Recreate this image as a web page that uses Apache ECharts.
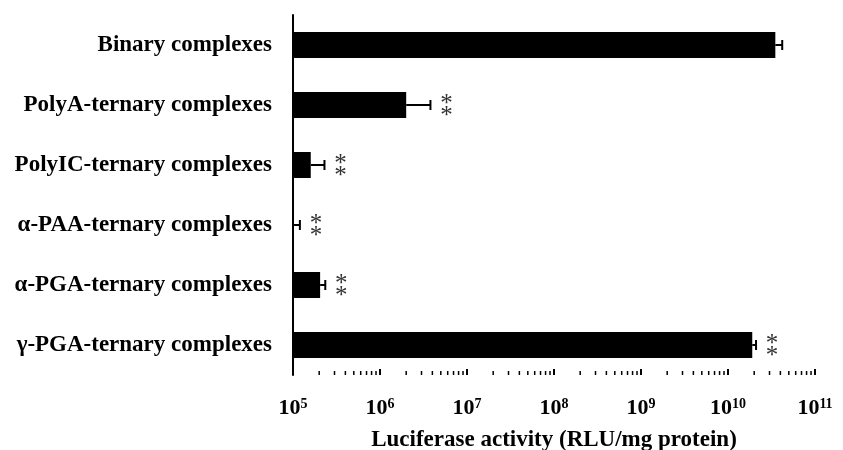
<!DOCTYPE html>
<html>
<head>
<meta charset="utf-8">
<script src="https://cdn.jsdelivr.net/npm/echarts@6/dist/echarts.min.js"></script>
<style>
html,body{margin:0;padding:0;background:#fff;}
#chart{width:843px;height:450px;}
</style>
</head>
<body>
<div id="chart"></div>
<script>
var categories = ['Binary complexes', 'PolyA-ternary complexes', 'PolyIC-ternary complexes', 'α-PAA-ternary complexes', 'α-PGA-ternary complexes', 'γ-PGA-ternary complexes'];
var means = [3.5e10, 2.0e6, 1.6e5, 1.0e5, 2.05e5, 1.9e10];
var errHigh = [4.2e10, 3.8e6, 2.3e5, 1.2e5, 2.35e5, 2.1e10];
var marks = ['', '**', '**', '**', '**', '**'];
var minorTicks = [];
var decades = [1e5, 1e6, 1e7, 1e8, 1e9, 1e10];
var minorMult = [2, 3, 4, 5, 6, 7, 8, 9];
decades.forEach(function (d) { minorMult.forEach(function (m) { minorTicks.push(m * d); }); });

var FONT = "'Liberation Serif','Times New Roman',serif";

var chart = echarts.init(document.getElementById('chart'), null, {renderer: 'canvas'});

var errData = categories.map(function (c, i) { return [errHigh[i], i, means[i], marks[i]]; });

chart.setOption({
  animation: false,
  backgroundColor: '#fff',
  grid: {left: 293, right: 28, top: 15, bottom: 75, containLabel: false, outerBoundsMode: 'none'},
  xAxis: {
    type: 'log',
    logBase: 10,
    min: 1e5,
    max: 1e11,
    axisLine: {lineStyle: {color: '#000', width: 2}},
    axisTick: {show: true, inside: true, length: 6, lineStyle: {color: '#000', width: 2}},
    splitLine: {show: false},
    axisLabel: {
      margin: 22,
      formatter: function (v) {
        var e = Math.round(Math.log10(v));
        return '{b|10}{s|' + e + '}';
      },
      rich: {
        b: {fontFamily: FONT, fontWeight: 'bold', fontSize: 22, color: '#000'},
        s: {fontFamily: FONT, fontWeight: 'bold', fontSize: 14, color: '#000', verticalAlign: 'top', padding: [0, 0, 9, 0]}
      }
    },
    name: 'Luciferase activity (RLU/mg protein)',
    nameLocation: 'middle',
    nameGap: 54,
    nameTextStyle: {fontFamily: FONT, fontWeight: 'bold', fontSize: 23, color: '#000'}
  },
  yAxis: {
    type: 'category',
    data: categories,
    inverse: true,
    axisLine: {lineStyle: {color: '#000', width: 2}},
    axisTick: {inside: true, length: 6, alignWithLabel: false, lineStyle: {color: '#000', width: 2}},
    axisLabel: {margin: 21, fontFamily: FONT, fontWeight: 'bold', fontSize: 23, color: '#000'}
  },
  series: [
    {
      type: 'bar',
      data: means,
      barWidth: 26,
      itemStyle: {color: '#000'}
    },
    {
      type: 'custom',
      data: errData,
      encode: {x: 0, y: 1},
      clip: false,
      z: 5,
      renderItem: function (params, api) {
        var cat = api.value(1);
        var hi = api.coord([api.value(0), cat]);
        var lo = api.coord([Math.max(api.value(2), 1e5), cat]);
        var y = hi[1];
        var children = [
          {type: 'line', shape: {x1: lo[0], y1: y, x2: hi[0], y2: y}, style: {stroke: '#000', lineWidth: 2}},
          {type: 'line', shape: {x1: hi[0], y1: y - 5, x2: hi[0], y2: y + 5}, style: {stroke: '#000', lineWidth: 2}}
        ];
        var m = marks[params.dataIndex];
        if (m) {
          children.push({type: 'text', style: {x: hi[0] + 16, y: y - 1, text: '*', fontFamily: FONT, fontSize: 25, fill: '#333', align: 'center', verticalAlign: 'middle'}});
          children.push({type: 'text', style: {x: hi[0] + 16, y: y + 11, text: '*', fontFamily: FONT, fontSize: 25, fill: '#333', align: 'center', verticalAlign: 'middle'}});
        }
        return {type: 'group', children: children};
      }
    },
    {
      type: 'custom',
      data: minorTicks.map(function (v) { return [v, 0]; }),
      encode: {x: 0, y: 1},
      clip: false,
      z: 6,
      renderItem: function (params, api) {
        var p = api.coord([api.value(0), 0]);
        var cs = params.coordSys;
        var yb = cs.y + cs.height;
        return {type: 'line', shape: {x1: p[0], y1: yb, x2: p[0], y2: yb - 4}, style: {stroke: '#000', lineWidth: 1.5}};
      }
    }
  ]
});
</script>
</body>
</html>
